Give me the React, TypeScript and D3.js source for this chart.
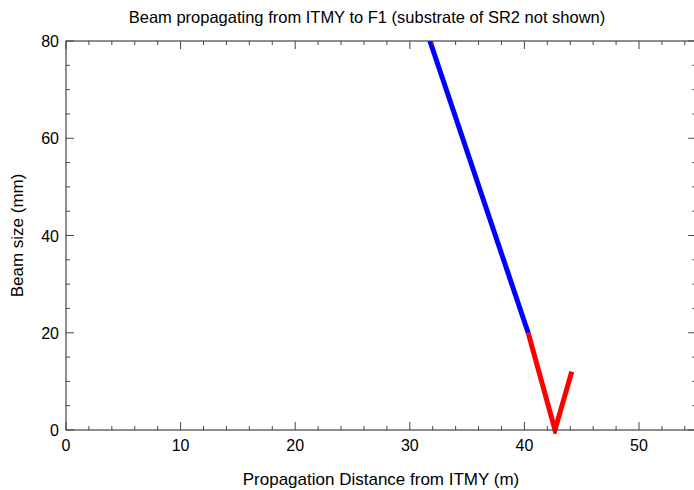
import React from "react";
import * as d3 from "d3";

const blueX = [31.2, 40.34];
const blueY = [83.9, 19.9];
const redX = [40.34, 42.67, 44.13];
const redY = [19.9, 0, 12.0];
const xTicks = [0, 10, 20, 30, 40, 50];
const yTicks = [0, 20, 40, 60, 80];
const title = "Beam propagating from ITMY to F1 (substrate of SR2 not shown)";
const xLabel = "Propagation Distance from ITMY (m)";
const yLabel = "Beam size (mm)";

const W = 694, H = 490;
const L = 66, T = 41, B = 430;

export default function App() {
  const x = d3.scaleLinear().domain([0, 50]).range([L, 639]);
  const R = x(55);
  const y = d3.scaleLinear().domain([0, 80]).range([B, T]);
  const line = d3.line<[number, number]>().x(d => x(d[0])).y(d => y(d[1]));
  const blue = blueX.map((v, i) => [v, blueY[i]] as [number, number]);
  const red = redX.map((v, i) => [v, redY[i]] as [number, number]);
  const xMinor = d3.range(0, 55.01, 2).filter(v => v % 10 !== 0);
  const yMinor = d3.range(0, 80.01, 5).filter(v => v % 20 !== 0);
  const ax = "#444";
  const font = "Liberation Sans, Arial, sans-serif";
  return (
    <svg width={W} height={H} style={{ position: "absolute", left: 0, top: 0, background: "#fff" }} fontFamily={font}>
      <defs>
        <clipPath id="clip"><rect x={L} y={T} width={R - L} height={B - T + 4} /></clipPath>
      </defs>
      <rect x={0} y={0} width={W} height={H} fill="#fff" />
      <g clipPath="url(#clip)">
        <path d={line(blue) || ""} stroke="#0000ff" strokeWidth={5} fill="none" />
        <path d={line(red) || ""} stroke="#ff0000" strokeWidth={5} fill="none" strokeLinejoin="miter" />
      </g>
      <rect x={L} y={T} width={R - L} height={B - T} fill="none" stroke={ax} strokeWidth={1.2} />
      {xTicks.map(t => (
        <g key={"xt" + t}>
          <line x1={x(t)} x2={x(t)} y1={B} y2={B - 8} stroke={ax} strokeWidth={1} />
          <line x1={x(t)} x2={x(t)} y1={T} y2={T + 8} stroke={ax} strokeWidth={1} />
          <text x={x(t)} y={B + 21} textAnchor="middle" fontSize={16} fill="#000">{t}</text>
        </g>
      ))}
      {xMinor.map(t => (
        <g key={"xm" + t}>
          <line x1={x(t)} x2={x(t)} y1={B} y2={B - 4} stroke={ax} strokeWidth={1} />
          <line x1={x(t)} x2={x(t)} y1={T} y2={T + 4} stroke={ax} strokeWidth={1} />
        </g>
      ))}
      {yTicks.map(t => (
        <g key={"yt" + t}>
          <line x1={L} x2={L + 8} y1={y(t)} y2={y(t)} stroke={ax} strokeWidth={1} />
          <line x1={R} x2={R - 8} y1={y(t)} y2={y(t)} stroke={ax} strokeWidth={1} />
          <text x={L - 7} y={y(t) + 6} textAnchor="end" fontSize={16} fill="#000">{t}</text>
        </g>
      ))}
      {yMinor.map(t => (
        <g key={"ym" + t}>
          <line x1={L} x2={L + 4} y1={y(t)} y2={y(t)} stroke={ax} strokeWidth={1} />
          <line x1={R} x2={R - 4} y1={y(t)} y2={y(t)} stroke={ax} strokeWidth={1} />
        </g>
      ))}
      <text x={367} y={23} textAnchor="middle" fontSize={16.5} fill="#000">{title}</text>
      <text x={381} y={485} textAnchor="middle" fontSize={17} fill="#000">{xLabel}</text>
      <text transform={`translate(23,${(T + B) / 2}) rotate(-90)`} textAnchor="middle" fontSize={17} fill="#000">{yLabel}</text>
    </svg>
  );
}
